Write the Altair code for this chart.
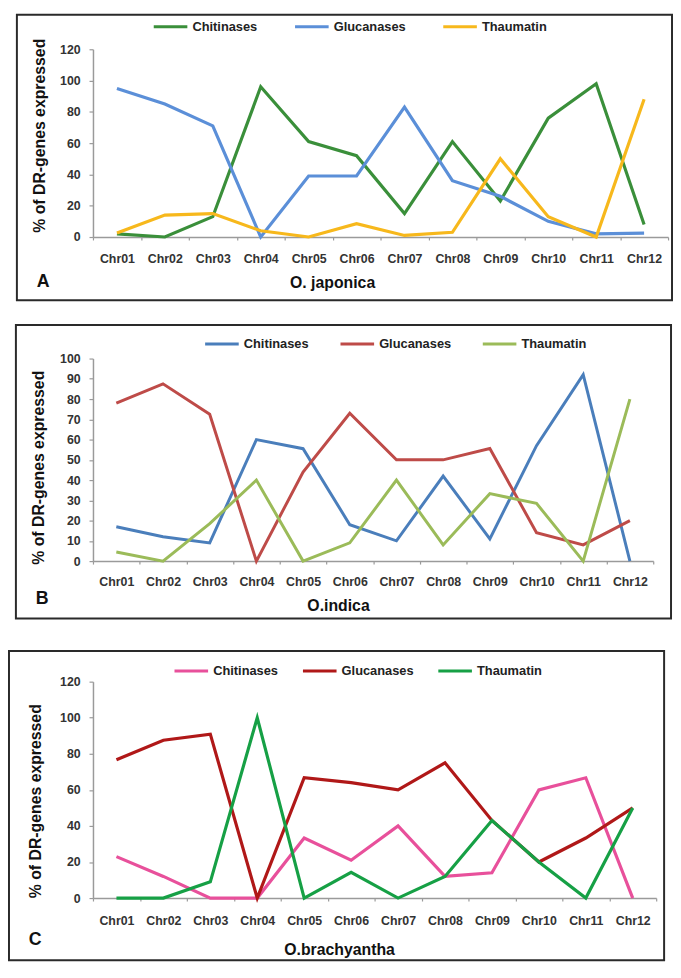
import altair as alt
import pandas as pd

F = "Liberation Sans"
CHR = ["Chr01", "Chr02", "Chr03", "Chr04", "Chr05", "Chr06",
       "Chr07", "Chr08", "Chr09", "Chr10", "Chr11", "Chr12"]
GENES = ["Chitinases", "Glucanases", "Thaumatin"]

# O. japonica
jap_chit = [2, 0, 13, 96, 61, 52, 15, 61, 23, 76, 98, 8]
jap_gluc = [95, 85, 71, 0, 39, 39, 83, 36, 26, 10, 2, 2.5]
jap_thau = [2.5, 14, 15, 4, 0, 8.5, 1, 3, 50, 13, 0, 88]

# O. indica
ind_chit = [17, 12, 9, 60, 55.5, 18, 10, 42, 11, 57, 92, 0]
ind_gluc = [78, 87.5, 72.5, 0, 44, 73, 50, 50, 55.6, 14, 8, 20]
ind_thau = [4.5, 0, 18.5, 40, 0, 9, 40, 8, 33.3, 28.5, 0, 80]

# O. brachyantha
bra_chit = [23, 12, 0, 0, 33.3, 21, 40, 12, 14, 60, 66.7, 0]
bra_gluc = [76.7, 87.5, 90.9, 0, 66.7, 64, 60, 75, 43, 20, 33.3, 50]
bra_thau = [0, 0, 9, 100, 0, 14.3, 0, 12, 43, 20, 0, 50]

COL_A = ["#3A8F3A", "#5B8FD8", "#F7B81C"]
COL_B = ["#4A7EBB", "#BE4B48", "#9BBB59"]
COL_C = ["#E8509B", "#B01818", "#16A045"]

# long thin line used as legend symbol (a small nominal size keeps the entry low)
LEG_SYMBOL = "M-5,0L5,0"
LEG_SIZE = 46.24


def long_df(chit, gluc, thau):
    rows = []
    for g, vals in zip(GENES, [chit, gluc, thau]):
        for c, v in zip(CHR, vals):
            rows.append({"chr": c, "gene": g, "val": v})
    return pd.DataFrame(rows)


def panel(df, colors, species, letter, w, h, ymax, ystep, box, leg, colpad,
          ytitle, xtitle, letter_xy, xlabpad, sw):
    x = alt.X(
        "chr:N", sort=CHR,
        scale=alt.Scale(type="band", domain=CHR, paddingInner=0, paddingOuter=0),
        bandPosition=0.5,
        axis=alt.Axis(
            title=species, titleFont=F, titleFontSize=16, titleFontWeight="bold",
            titleColor="#111", titleX=xtitle[0], titleY=xtitle[1],
            titleAlign="center", titleBaseline="middle", titleAngle=0,
            labelAngle=0, labelFont=F, labelFontSize=12.5, labelFontWeight="bold",
            labelColor="#333", labelBaseline="middle", labelPadding=xlabpad,
            tickBand="extent", tickSize=3, tickColor="#9a9a9a", tickWidth=1.2,
            domainColor="#9a9a9a", domainWidth=1.5, grid=False, labelOverlap=False,
        ),
    )
    y = alt.Y(
        "val:Q",
        scale=alt.Scale(domain=[0, ymax], nice=False, zero=True),
        axis=alt.Axis(
            values=list(range(0, ymax + 1, ystep)),
            title="% of DR-genes expressed", titleFont=F, titleFontSize=16,
            titleFontWeight="bold", titleColor="#111", titleAngle=270,
            titleX=ytitle[0], titleY=ytitle[1], titleAlign="center",
            titleBaseline="middle",
            labelFont=F, labelFontSize=12.5, labelFontWeight="bold",
            labelColor="#333", labelPadding=9, tickSize=4, tickColor="#9a9a9a",
            tickWidth=1.2, domainColor="#9a9a9a", domainWidth=1.5, grid=False,
        ),
    )
    color = alt.Color(
        "gene:N",
        scale=alt.Scale(domain=GENES, range=colors),
        legend=alt.Legend(
            title=None, orient="none", direction="horizontal",
            legendX=leg[0], legendY=leg[1], symbolType=LEG_SYMBOL,
            symbolSize=LEG_SIZE, symbolStrokeWidth=3, labelFont=F, labelFontSize=13,
            labelFontWeight="bold", labelColor="#222", labelOffset=15.6,
            columnPadding=colpad, padding=0,
        ),
    )
    lines = alt.Chart(df).mark_line(strokeWidth=sw).encode(x=x, y=y, color=color)
    frame = alt.Chart(pd.DataFrame({"k": [0]})).mark_rect(
        fill="transparent", stroke="#2a2a2a", strokeWidth=2
    ).encode(
        x=alt.value(box[0]), x2=alt.value(box[1]),
        y=alt.value(box[2]), y2=alt.value(box[3]),
    )
    lab = alt.Chart(pd.DataFrame({"t": [letter]})).mark_text(
        font=F, fontSize=18, fontWeight="bold", color="#111",
        align="center", baseline="middle",
    ).encode(text="t:N", x=alt.value(letter_xy[0]), y=alt.value(letter_xy[1]))
    return alt.layer(frame, lines, lab).properties(width=w, height=h)


pA = panel(long_df(jap_chit, jap_gluc, jap_thau), COL_A, "O. japonica", "A",
           582, 190, 120, 20, (-77, 586, -35, 254), (72, -29.5), 31,
           (-54.5, 87), (242, 46), (-50.5, 236), 19, 3.2)
pB = panel(long_df(ind_chit, ind_gluc, ind_thau), COL_B, "O.indica", "B",
           567, 205, 100, 10, (-78, 585, -34, 263), (124, -21.5), 25,
           (-55.5, 110), (248, 45), (-51.5, 243), 18, 3)
pC = panel(long_df(bra_chit, bra_gluc, bra_thau), COL_C, "O.brachyantha", "C",
           570, 219, 120, 20, (-85, 578, -31, 282), (93, -17.5), 18,
           (-58.5, 120.5), (249, 52), (-58.5, 262), 20, 3.2)

top = alt.vconcat(pA, pB, spacing=23).resolve_scale(
    color="independent", x="independent", y="independent"
).resolve_legend(color="independent")

chart = alt.vconcat(top, pC, spacing=31).resolve_scale(
    color="independent", x="independent", y="independent"
).resolve_legend(color="independent").properties(
    padding=0, background="white"
).configure_view(strokeWidth=0)

chart.save("out.html", embed_options={"renderer": "svg", "actions": False})
